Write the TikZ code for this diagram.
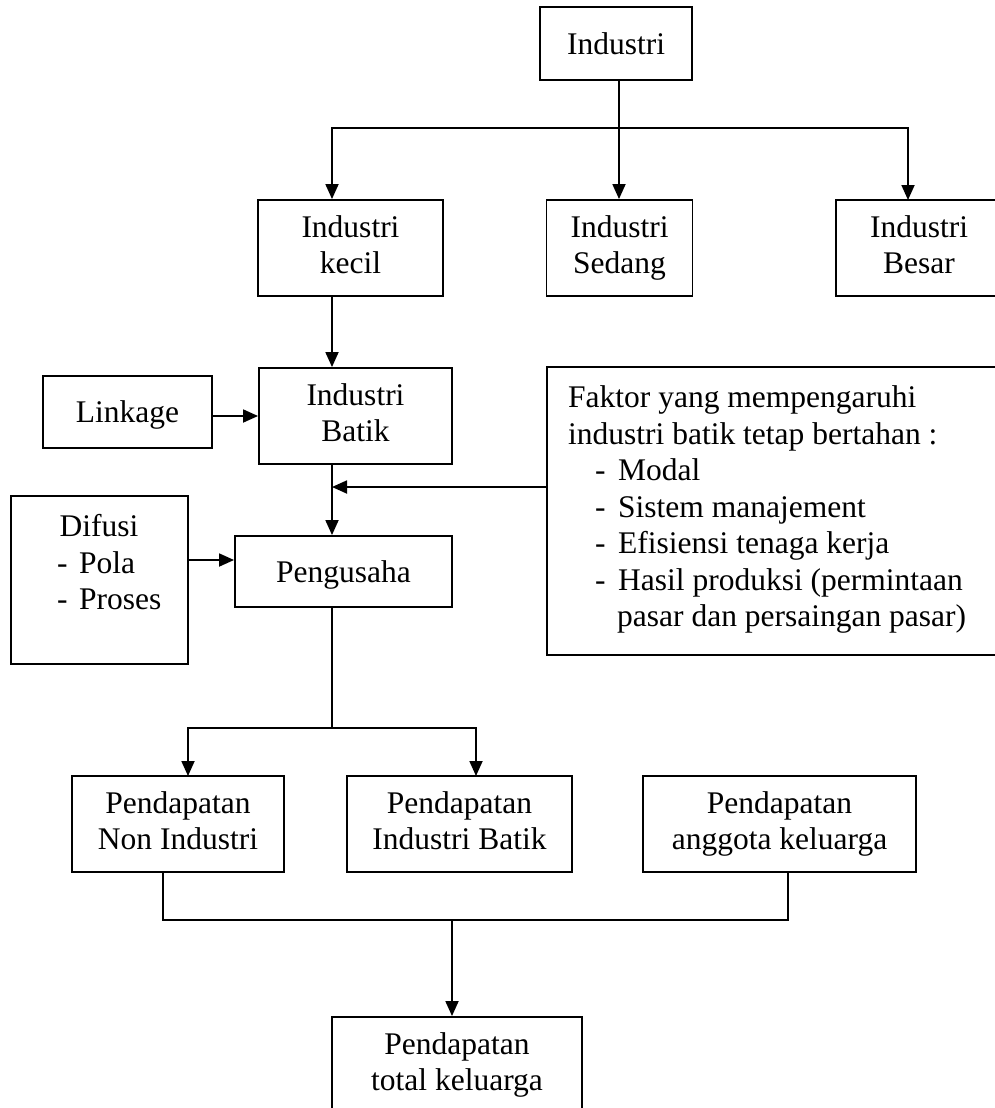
\documentclass[tikz,border=0pt]{standalone}
\usepackage{fontspec}
\setmainfont{Liberation Serif}
\usetikzlibrary{arrows.meta,positioning,calc}
\newcommand{\bstrut}{\rule[-6.9pt]{0pt}{35pt}}

\begin{document}
\begin{tikzpicture}[
  x=1pt,y=-1pt,
  font=\fontsize{31.5}{36.5}\selectfont,
  >={Triangle[length=15pt,width=13pt]},
  boxn/.style={draw,line width=1.9pt,inner sep=0pt,align=center,
               execute at begin node=\bstrut,execute at end node=\bstrut},
  listtxt/.style={inner sep=0pt,align=left,anchor=north west},
  arrowline/.style={->,line width=1.8pt},
  joinline/.style={line width=1.8pt},
]
\useasboundingbox (0,0) rectangle (995,1108);
\clip (0,0) rectangle (995,1108);

% ===================== INDUSTRY LEVELS =====================
\node[boxn,minimum width=152pt,minimum height=73pt] (industri) at (616,43.5) {Industri};
\node[boxn,minimum width=185pt,minimum height=96pt] (kecil) at (350.5,248) {Industri\\kecil};
\node[boxn,minimum width=146pt,minimum height=96pt] (sedang) at (619.5,248) {Industri\\Sedang};
\node[boxn,minimum width=166pt,minimum height=96pt] (besar) at (919,248) {Industri\\Besar};

\coordinate (spine) at (332,0);      % x of the main vertical line
\coordinate (topfork) at (619,128);
\coordinate (besarin) at (908,200);
\draw[arrowline] (topfork |- industri.south) -- (topfork |- sedang.north);
\draw[arrowline] (topfork) -| (kecil.north -| spine);
\draw[arrowline] (topfork) -| (besarin);

% ===================== BATIK + INFLUENCES =====================
\node[boxn,minimum width=193pt,minimum height=96pt] (batik) at (355.5,416) {Industri\\Batik};
\node[boxn,minimum width=169pt,minimum height=72pt] (linkage) at (127.5,412) {Linkage};
\node[boxn,minimum width=463pt,minimum height=288pt] (faktor) at (778.5,511) {};
\node[listtxt] (faktortxt) at (568,385.5)
  {Faktor yang mempengaruhi\\
   industri batik tetap bertahan :\\
   \hspace*{27pt}-\hspace{12.5pt}Modal\\
   \hspace*{27pt}-\hspace{12.5pt}Sistem manajement\\
   \hspace*{27pt}-\hspace{12.5pt}Efisiensi tenaga kerja\\
   \hspace*{27pt}-\hspace{12.5pt}Hasil produksi (permintaan\\
   \hspace*{49pt}pasar dan persaingan pasar)};

\node[boxn,minimum width=217pt,minimum height=71pt] (pengusaha) at (343.5,571.5) {Pengusaha};
\node[boxn,minimum width=177pt,minimum height=168pt] (difusi) at (99.5,580) {};
\node[listtxt] (difusitxt) at (57,514.5)
  {\hspace*{2.5pt}Difusi\\
   -\hspace{11.5pt}Pola\\
   -\hspace{11.5pt}Proses};

\coordinate (faktorout) at (547,487);
\coordinate (difusiout) at (188,560);
\draw[arrowline] (kecil.south -| spine) -- (batik.north -| spine);
\draw[arrowline] (linkage.east |- batik.west) -- (batik.west);
\draw[arrowline] (batik.south -| spine) -- (pengusaha.north -| spine);
\draw[arrowline] (faktorout) -- (faktorout -| spine);
\draw[arrowline] (difusiout) -- (difusiout -| pengusaha.west);

% ===================== INCOME =====================
\node[boxn,minimum width=212pt,minimum height=96pt] (nonind) at (178,824) {Pendapatan\\Non Industri};
\node[boxn,minimum width=225pt,minimum height=96pt] (pendbatik) at (459.5,824) {Pendapatan\\Industri Batik};
\node[boxn,minimum width=273pt,minimum height=96pt] (anggota) at (779.5,824) {Pendapatan\\anggota keluarga};
\node[boxn,minimum width=250pt,minimum height=96pt] (total) at (457,1065) {Pendapatan\\total keluarga};

\coordinate (midfork) at (332,728);
\coordinate (nonindin) at (188,776);
\coordinate (pendbatikin) at (476,776);
\draw[joinline] (pengusaha.south -| spine) -- (midfork);
\draw[arrowline] (midfork) -| (nonindin);
\draw[arrowline] (midfork) -| (pendbatikin);

\coordinate (nonindout) at (163,872);
\coordinate (anggotaout) at (788,872);
\coordinate (botfork) at (452,920);
\draw[joinline] (nonindout) |- (botfork) -| (anggotaout);
\draw[arrowline] (botfork) -- (botfork |- total.north);

\end{tikzpicture}
\end{document}
